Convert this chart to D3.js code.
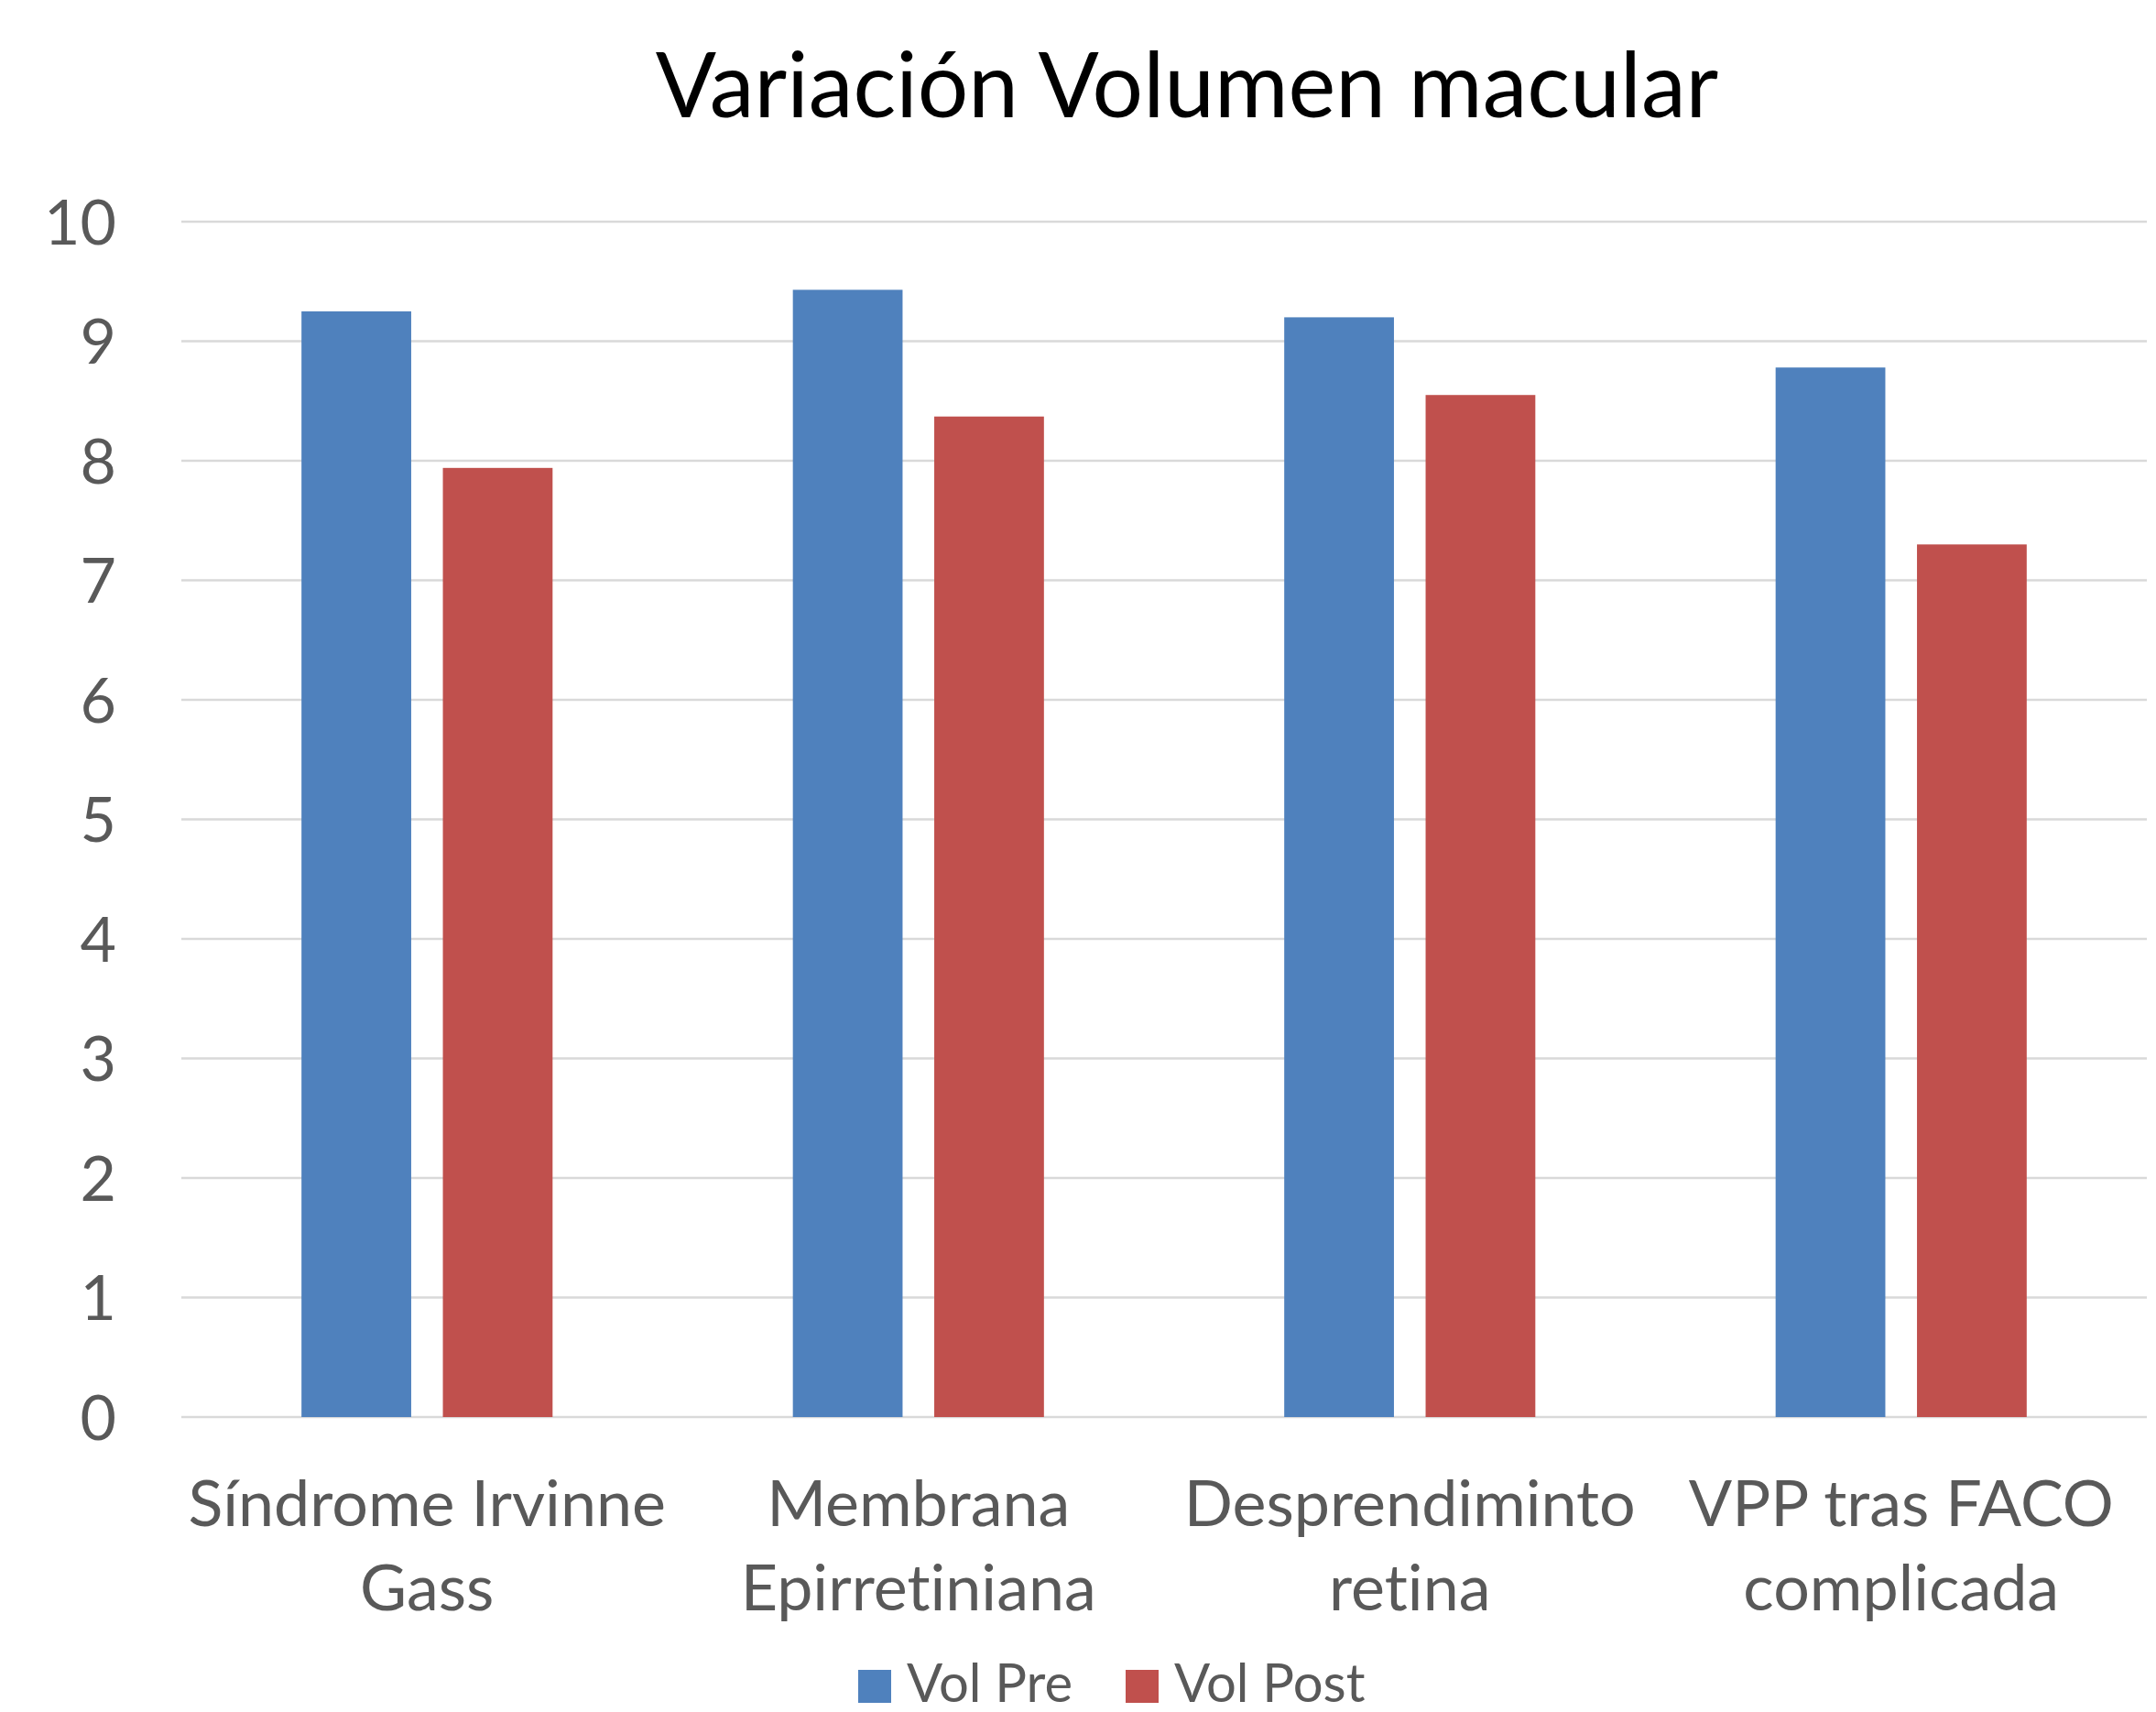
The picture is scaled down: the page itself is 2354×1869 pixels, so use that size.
<!DOCTYPE html>
<html>
<head>
<meta charset="utf-8">
<script src="https://cdn.jsdelivr.net/npm/d3@7"></script>
<style>
  body { margin: 0; background: #fff; }
  text { font-family: Lato, "Open Sans", sans-serif; font-variant-ligatures: none; }
</style>
</head>
<body>
<div id="chart"></div>
<script>
// data
const categories = ["Síndrome Irvinne Gass", "Membrana Epirretiniana", "Desprendiminto retina", "VPP tras FACO complicada"];
const categoryLines = [["Síndrome Irvinne", "Gass"], ["Membrana", "Epirretiniana"], ["Desprendiminto", "retina"], ["VPP tras FACO", "complicada"]];
const seriesNames = ["Vol Pre", "Vol Post"];
const volPre = [9.25, 9.43, 9.20, 8.78];
const volPost = [7.94, 8.37, 8.55, 7.30];
const yTicks = [0, 1, 2, 3, 4, 5, 6, 7, 8, 9, 10];
const chartTitle = "Variación Volumen macular";

const colors = {"Vol Pre": "#4F81BD", "Vol Post": "#C0504D"};

const W = 2354, H = 1869;
const margin = {top: 242, right: 10, bottom: 322, left: 198},
    width = W - margin.left - margin.right,
    height = H - margin.top - margin.bottom;

const svg = d3.select("#chart")
    .append("svg")
    .attr("width", W)
    .attr("height", H);

const g = svg.append("g")
    .attr("transform", "translate(" + margin.left + "," + margin.top + ")");

const x0 = d3.scaleBand()
    .domain(categories)
    .range([0, width])
    .padding(0);

// bars: ~120px wide, gap width ~219%
const x1 = d3.scaleBand()
    .domain(seriesNames)
    .range([x0.bandwidth() * 0.2445, x0.bandwidth() * 0.7555])
    .paddingInner(0.224);

const y = d3.scaleLinear()
    .domain([0, 10])
    .range([height, 0]);

// gridlines
g.append("g")
    .selectAll("line")
    .data(yTicks)
    .enter()
    .append("line")
    .attr("x1", 0)
    .attr("x2", width)
    .attr("y1", d => y(d))
    .attr("y2", d => y(d))
    .attr("stroke", "#D9D9D9")
    .attr("stroke-width", 2.5);

// y axis labels
const yAxis = g.append("g")
    .call(d3.axisLeft(y).tickValues(yTicks).tickSize(0).tickPadding(71).tickFormat(d3.format("d")));
yAxis.select(".domain").remove();
yAxis.selectAll("text")
    .attr("fill", "#595959")
    .style("font-size", "68px")
    .attr("dy", "0.36em");

// bars
const rows = categories.map((c, i) => ({cat: c, values: [
    {key: "Vol Pre", value: volPre[i]},
    {key: "Vol Post", value: volPost[i]}
]}));

g.append("g")
    .selectAll("g")
    .data(rows)
    .enter()
    .append("g")
    .attr("transform", d => "translate(" + x0(d.cat) + ",0)")
    .selectAll("rect")
    .data(d => d.values)
    .enter()
    .append("rect")
    .attr("x", d => x1(d.key))
    .attr("width", x1.bandwidth())
    .attr("y", d => y(d.value))
    .attr("height", d => height - y(d.value))
    .attr("fill", d => colors[d.key]);

// category labels (two lines each)
const catLabels = g.append("g")
    .selectAll("text")
    .data(categories)
    .enter()
    .append("text")
    .attr("text-anchor", "middle")
    .attr("fill", "#595959")
    .style("font-size", "70px")
    .attr("transform", d => "translate(" + (x0(d) + x0.bandwidth() / 2) + "," + (height + 119) + ")");
catLabels.each(function (d, i) {
    const t = d3.select(this);
    categoryLines[i].forEach((line, j) => {
        t.append("tspan")
            .attr("x", 0)
            .attr("y", j * 92)
            .text(line);
    });
});

// title
svg.append("text")
    .attr("x", 1296)
    .attr("y", 128)
    .attr("text-anchor", "middle")
    .attr("fill", "#000")
    .style("font-size", "98px")
    .text(chartTitle);

// legend
const legend = svg.append("g")
    .attr("transform", "translate(937,1823)");
const legendItems = legend.selectAll("g")
    .data(seriesNames)
    .enter()
    .append("g")
    .attr("transform", (d, i) => "translate(" + (i * 292) + ",0)");
legendItems.append("rect")
    .attr("width", 36)
    .attr("height", 36)
    .attr("fill", d => colors[d]);
legendItems.append("text")
    .attr("x", 53)
    .attr("y", 35)
    .attr("fill", "#595959")
    .style("font-size", "58px")
    .text(d => d);
</script>
</body>
</html>
